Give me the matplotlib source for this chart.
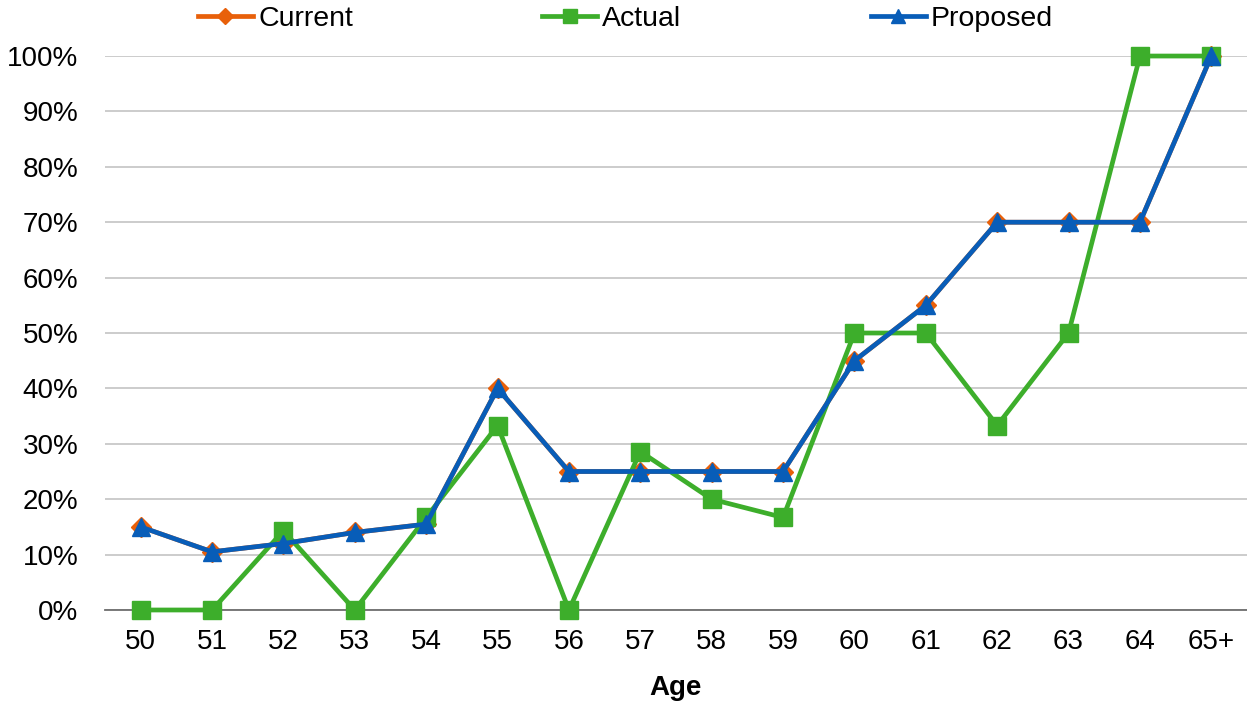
import matplotlib
matplotlib.use('Agg')
import matplotlib.pyplot as plt

plt.rcParams['font.family'] = ['Liberation Sans', 'DejaVu Sans']

ages = ['50', '51', '52', '53', '54', '55', '56', '57', '58', '59',
        '60', '61', '62', '63', '64', '65+']
current = [15, 10.5, 12, 14, 15.5, 40, 25, 25, 25, 25, 45, 55, 70, 70, 70, 100]
actual = [0, 0, 14.3, 0, 16.7, 33.3, 0, 28.6, 20, 16.7, 50, 50, 33.3, 50, 100, 100]
proposed = [15, 10.5, 12, 14, 15.5, 40, 25, 25, 25, 25, 45, 55, 70, 70, 70, 100]

fig = plt.figure(figsize=(12.47, 7.03), dpi=100)
ax = fig.add_axes([0.0842, 0.1323, 0.9158, 0.788])

x = range(len(ages))
ax.plot(x, [v / 100 for v in current], color='#E8600A', lw=3.4, marker='D', ms=10,
        label='Current', clip_on=False, zorder=3)
ax.plot(x, [v / 100 for v in actual], color='#3DAE2B', lw=3.4, marker='s', ms=13,
        label='Actual', clip_on=False, zorder=4)
ax.plot(x, [v / 100 for v in proposed], color='#085DB8', lw=3.4, marker='^', ms=13,
        label='Proposed', clip_on=False, zorder=5)

ax.set_xlim(-0.5, len(ages) - 0.5)
ax.set_ylim(0, 1)
ax.set_yticks([i / 10 for i in range(11)])
ax.set_yticklabels([f'{i * 10}%' for i in range(11)])
ax.set_xticks(list(x))
ax.set_xticklabels(ages)
ax.tick_params(axis='both', length=0, labelsize=20, colors='black')
ax.tick_params(axis='y', pad=19)
ax.tick_params(axis='x', pad=14)

ax.grid(axis='y', color='#C8C8C8', lw=1.3)
ax.set_axisbelow(True)
for s in ['top', 'right', 'left']:
    ax.spines[s].set_visible(False)
ax.spines['bottom'].set_color('#6E6E6E')
ax.spines['bottom'].set_linewidth(1.3)
ax.spines['bottom'].set_zorder(2)

ax.set_xlabel('Age', fontsize=20, fontweight='bold', labelpad=14)

fig.legend(loc='center', bbox_to_anchor=(0.5016, 0.973), ncol=3, frameon=False,
           fontsize=20.5, columnspacing=6.65, handlelength=1.93, handletextpad=0.18,
           markerscale=0.8)

fig.savefig('out.png', dpi=100)
